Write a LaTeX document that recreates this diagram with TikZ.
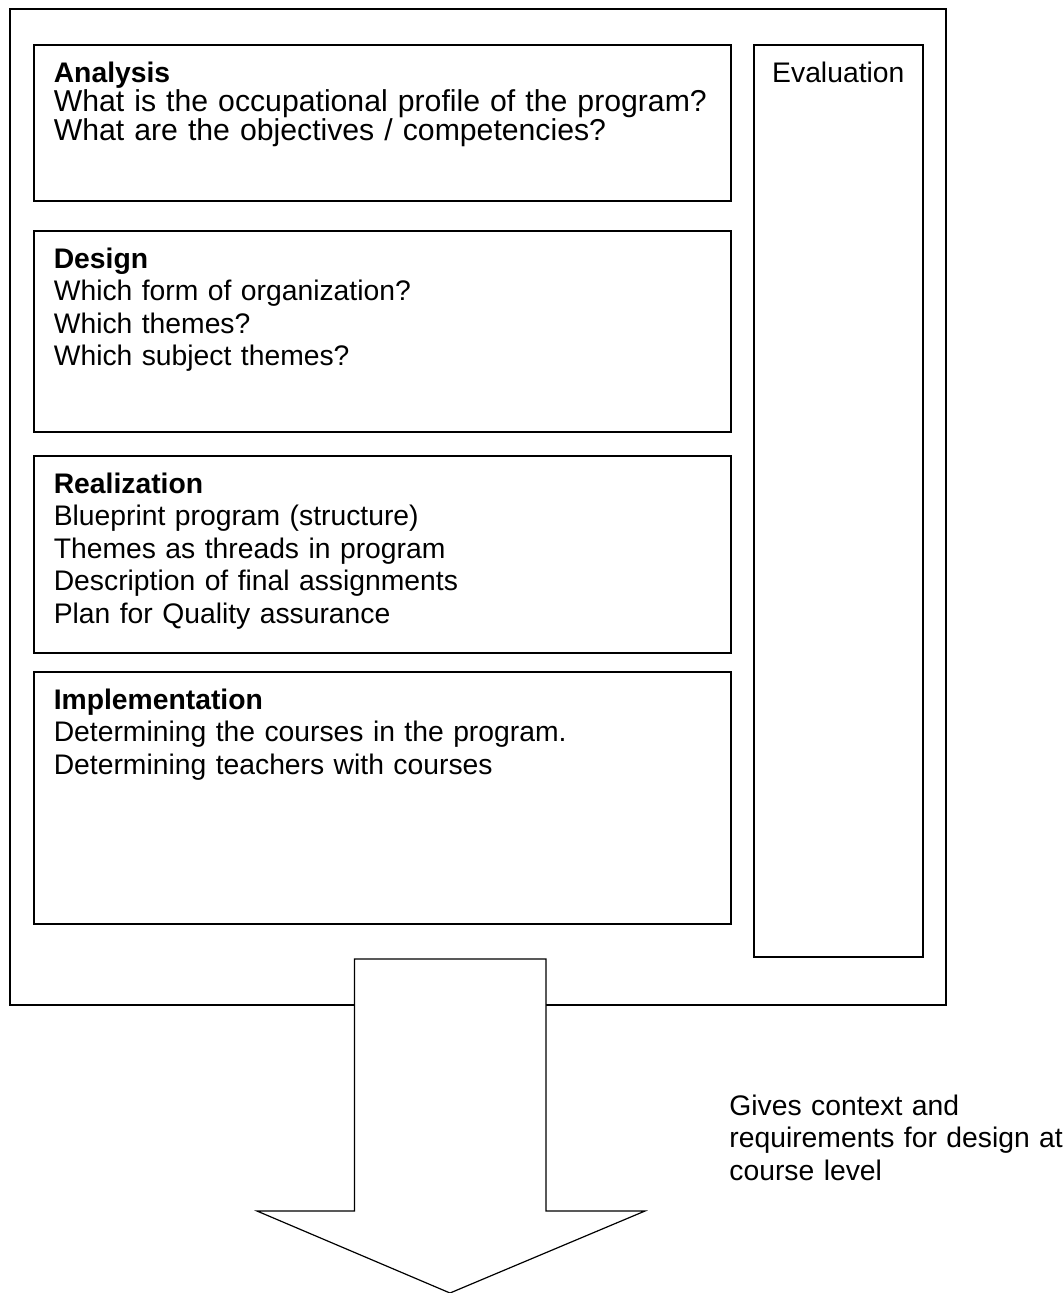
\documentclass[tikz,border=0pt]{standalone}
\usepackage{fontspec}
\setmainfont{Liberation Sans}
\usepackage{tikz}

\begin{document}
\begin{tikzpicture}[x=0.5pt, y=-0.5pt,
    every node/.style = {font=\fontsize{14.15pt}{16.25pt}\selectfont},
    frame/.style = {draw, line width=0.8pt, anchor=north west, inner sep=0pt},
    phase/.style = {frame, align=left, text width=328.5pt, inner xsep=10pt,
      text height=18.75pt, text depth=#1}]
  \useasboundingbox (0,0) rectangle (1063,1293);
  \node[frame, minimum width=468pt, minimum height=498pt] (program) at (9,8) {};
  \node[phase=59.25pt, font=\fontsize{15.1pt}{14.6pt}\selectfont] (analysis) at (33,44)
    {\textbf{\fontsize{14.15pt}{14.6pt}\selectfont Analysis}\\What is the occupational profile of the program?\\What are the objectives / competencies?};
  \node[phase=81.75pt] (design) at (33,230)
    {\textbf{Design}\\Which form of organization?\\Which themes?\\Which subject themes?};
  \node[phase=79.75pt] (realization) at (33,455)
    {\textbf{Realization}\\Blueprint program (structure)\\Themes as threads in program\\Description of final assignments\\Plan for Quality assurance};
  \node[phase=107.25pt] (implementation) at (33,671)
    {\textbf{Implementation}\\Determining the courses in the program.\\Determining teachers with courses};
  \node[frame, align=center, text width=84.5pt, text height=18.75pt,
    text depth=437.25pt] (evaluation) at (753,44) {Evaluation};
  \draw[line width=0.6pt, fill=white] (354.5,959) -- (546,959) -- (546,1211)
    -- (645,1211) -- (450,1293) -- (257,1211) -- (354.5,1211) -- cycle;
  \node[anchor=base west, inner sep=0pt, text width=170pt, align=left] (context)
    at (729,1115) {Gives context and\\requirements for design at\\course level};
\end{tikzpicture}
\end{document}
